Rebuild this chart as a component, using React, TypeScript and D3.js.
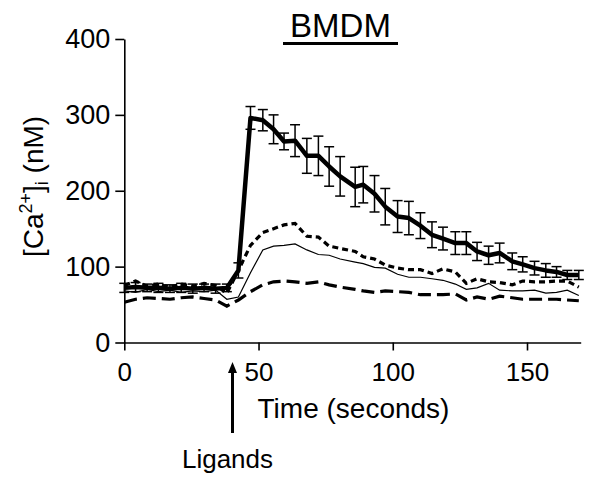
import React, { useEffect, useRef } from "react";
import * as d3 from "d3";

// time points (s)
const times = [0, 4.2, 8.5, 12.7, 17, 21.2, 25.5, 29.7, 34, 38.2, 42.5, 47, 51.6, 55.6, 59.5, 63.6, 68, 72.3, 76.3, 80.4, 86, 89, 93.2, 97.2, 101.8, 106, 110.3, 114.6, 118.7, 123.3, 127.4, 131.4, 135.7, 139.8, 144.5, 148.4, 152.8, 157, 161, 165, 169.3];

// thick solid line (mean +/- SEM)
const meanThick = [72, 73, 72, 72, 71, 72, 71, 72, 71, 72, 95, 296, 293, 281, 265, 266, 246, 246, 232, 219, 205, 208, 196, 179, 166, 164, 154, 142, 137, 131, 131, 120, 115, 118, 107, 103, 98, 95, 93, 89, 89];
const errThick = [6, 6, 5, 6, 5, 6, 6, 5, 6, 5, 10, 15, 14, 19, 11, 21, 23, 26, 26, 26, 26, 24, 24, 24, 21, 22, 17, 17, 15, 15, 15, 12, 12, 13, 11, 10, 9, 9, 7, 6, 6];

// short dashed line
const meanDotted = [75, 81, 74, 77, 73, 77, 74, 78, 75, 65, 95, 128, 145, 150, 155, 157, 140, 139, 127, 124, 120, 113, 110, 102, 98, 96, 96, 91, 97, 93, 78, 84, 80, 79, 76, 81, 80, 80, 81, 81, 73];

// thin solid line
const meanThin = [68, 66, 70, 67, 69, 66, 68, 67, 69, 57, 60, 92, 122, 127, 128, 130, 122, 116, 115, 110, 106, 104, 99, 98, 90, 86, 86, 84, 82, 77, 70, 72, 78, 69, 68, 68, 69, 65, 66, 69, 62];

// long dashed line
const meanDashed = [53, 57, 59, 58, 57, 59, 60, 58, 56, 48, 56, 67, 76, 80, 81, 80, 78, 80, 76, 73, 70, 68, 66, 68, 67, 66, 63, 63, 63, 64, 56, 60, 57, 61, 59, 57, 57, 57, 57, 56, 55];

const xTicks = [0, 50, 100, 150];
const yTicks = [0, 100, 200, 300, 400];
const ligandTime = 40.3;

const FONT = "'Liberation Sans', Arial, sans-serif";

const CalciumChart = () => {
  const ref = useRef<SVGSVGElement>(null);

  useEffect(() => {
    const svg = d3.select(ref.current);
    svg.selectAll("*").remove();

    const width = 597, height = 483;
    svg.attr("width", width).attr("height", height);

    const x = d3.scaleLinear().domain([0, 170]).range([124.3, 580.7]);
    const y = d3.scaleLinear().domain([0, 400]).range([342.5, 39]);

    // axes
    const yAxis = svg.append("g")
      .attr("transform", `translate(${x(0)},0)`)
      .call(d3.axisLeft(y).tickValues(yTicks).tickSize(9).tickSizeOuter(0).tickPadding(5));
    yAxis.selectAll("text").attr("font-size", 27).attr("font-family", FONT).attr("fill", "#000");

    const xAxis = svg.append("g")
      .attr("transform", `translate(0,${y(0)})`)
      .call(d3.axisBottom(x).tickValues(xTicks).tickSize(8).tickSizeOuter(0).tickPadding(12));
    xAxis.selectAll("text").attr("font-size", 26).attr("font-family", FONT).attr("fill", "#000");

    svg.selectAll(".domain, .tick line").attr("stroke", "#000").attr("stroke-width", 1.6);

    const line = (vals: number[]) =>
      d3.line<number>().x((_, i) => x(times[i])).y((d) => y(d))(vals);

    // long dashed
    svg.append("path")
      .attr("d", line(meanDashed))
      .attr("fill", "none")
      .attr("stroke", "#000")
      .attr("stroke-width", 3.2)
      .attr("stroke-dasharray", "13,6");

    // thin solid
    svg.append("path")
      .attr("d", line(meanThin))
      .attr("fill", "none")
      .attr("stroke", "#000")
      .attr("stroke-width", 1.2);

    // short dashed
    svg.append("path")
      .attr("d", line(meanDotted))
      .attr("fill", "none")
      .attr("stroke", "#000")
      .attr("stroke-width", 3.2)
      .attr("stroke-dasharray", "6,4");

    // error bars
    const eb = svg.append("g").attr("stroke", "#000").attr("stroke-width", 1.5);
    meanThick.forEach((m, i) => {
      const cx = x(times[i]);
      const top = y(m + errThick[i]);
      const bot = y(m - errThick[i]);
      eb.append("line").attr("x1", cx).attr("x2", cx).attr("y1", top).attr("y2", bot);
      eb.append("line").attr("x1", cx - 5).attr("x2", cx + 5).attr("y1", top).attr("y2", top);
      eb.append("line").attr("x1", cx - 5).attr("x2", cx + 5).attr("y1", bot).attr("y2", bot);
    });

    // thick mean line
    svg.append("path")
      .attr("d", line(meanThick))
      .attr("fill", "none")
      .attr("stroke", "#000")
      .attr("stroke-width", 4.5)
      .attr("stroke-linejoin", "round");

    // title
    svg.append("text")
      .attr("x", 340.5)
      .attr("y", 37)
      .attr("text-anchor", "middle")
      .attr("font-family", FONT)
      .attr("font-size", 33)
      .text("BMDM");
    svg.append("rect")
      .attr("x", 283)
      .attr("y", 42)
      .attr("width", 115)
      .attr("height", 3)
      .attr("fill", "#000");

    // y label
    const yl = svg.append("text")
      .attr("transform", "translate(43,186.5) rotate(-90)")
      .attr("text-anchor", "middle")
      .attr("font-family", FONT)
      .attr("font-size", 28);
    yl.append("tspan").text("[Ca");
    yl.append("tspan").attr("font-size", 18).attr("dy", -11).text("2+");
    yl.append("tspan").attr("dy", 11).text("]");
    yl.append("tspan").attr("font-size", 18).attr("dy", 5).text("i");
    yl.append("tspan").attr("dy", -5).text(" (nM)");

    // x label
    svg.append("text")
      .attr("x", 353.5)
      .attr("y", 418)
      .attr("text-anchor", "middle")
      .attr("font-family", FONT)
      .attr("font-size", 28)
      .text("Time (seconds)");

    // ligand arrow
    const ax = x(ligandTime);
    svg.append("line")
      .attr("x1", ax).attr("x2", ax)
      .attr("y1", 433).attr("y2", 370)
      .attr("stroke", "#000")
      .attr("stroke-width", 3);
    svg.append("path")
      .attr("d", `M${ax},362 L${ax - 4.5},373 L${ax + 4.5},373 Z`)
      .attr("fill", "#000");

    svg.append("text")
      .attr("x", 227.5)
      .attr("y", 468)
      .attr("text-anchor", "middle")
      .attr("font-family", FONT)
      .attr("font-size", 26)
      .text("Ligands");
  }, []);

  return <svg ref={ref} style={{ position: "absolute", left: 0, top: 0 }} />;
};

export default function App() {
  return <CalciumChart />;
}
